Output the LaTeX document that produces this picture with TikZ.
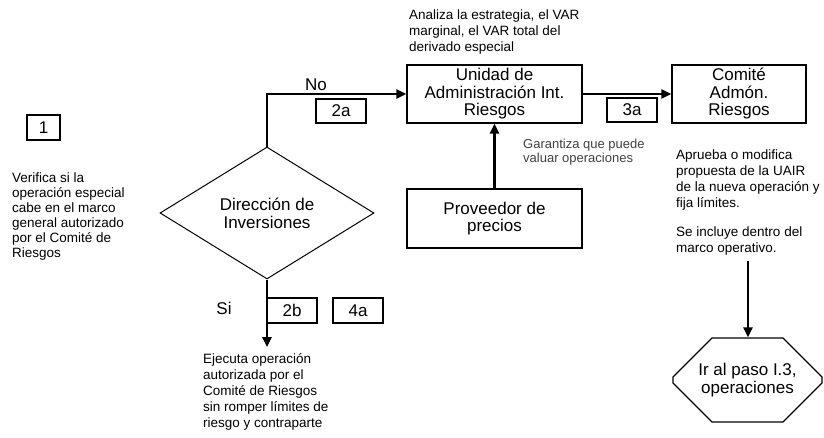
\documentclass[tikz,border=0pt]{standalone}
\usepackage{fontspec}
\setmainfont{Liberation Sans}
\usetikzlibrary{arrows.meta,shapes.geometric,shapes.misc}
\begin{document}
\begin{tikzpicture}[x=1pt,y=-1pt,
  box/.style={draw, line width=1.2pt, align=center, inner sep=0pt,
    font=\fontsize{17}{17.5}\selectfont},
  numbox/.style={draw, line width=1.2pt, inner sep=0pt, minimum width=50pt, minimum height=24pt,
    font=\fontsize{17}{17}\selectfont},
  note/.style={align=left, anchor=north west, inner sep=0pt,
    font=\fontsize{13.5}{16}\selectfont},
  lbl/.style={inner sep=0pt, font=\fontsize{17}{17}\selectfont},
  conn/.style={line width=2.4pt, -{Triangle[length=10pt,width=9pt]}}
]
\useasboundingbox (0,0) rectangle (824,437);

% boxes
\node[numbox, minimum width=33pt, minimum height=25pt] (b1) at (43.5,127.5) {1};
\node[box, minimum width=175pt, minimum height=58pt] (uair) at (494.5,94) {Unidad de\\Administración Int.\\Riesgos};
\node[box, minimum width=134pt, minimum height=58pt] (com) at (739,94) {Comité\\Admón.\\Riesgos};
\node[box, minimum width=175pt, minimum height=59pt] (prov) at (494.5,218.5) {Proveedor de\\precios};
\node[draw, diamond, line width=1pt, aspect=1.62, inner sep=0pt, minimum width=214pt, minimum height=132pt,
  align=center, font=\fontsize{17}{18}\selectfont] (dia) at (267,213) {Dirección de\\Inversiones};
\node[draw, chamfered rectangle, chamfered rectangle xsep=24pt, chamfered rectangle ysep=22pt,
  line width=1.2pt, inner sep=0pt, minimum width=149pt, minimum height=84pt, align=center,
  font=\fontsize{17}{18}\selectfont] (oct) at (747.5,380) {Ir al paso I.3,\\operaciones};

\node[numbox] (n2a) at (341,111) {2a};
\node[numbox] (n3a) at (632,110) {3a};
\node[numbox, minimum height=25pt] (n2b) at (292,310.5) {2b};
\node[numbox, minimum height=25pt] (n4a) at (358,310.5) {4a};

% labels
\node[lbl] (no) at (316,85) {No};
\node[lbl] (si) at (224,308.5) {Si};

% notes
\node[note, font=\fontsize{13.5}{15}\selectfont] (t1) at (12,173) {Verifica si la\\operación especial\\cabe en el marco\\general autorizado\\por el Comité de\\Riesgos};
\node[note] (t2) at (409,9.5) {Analiza la estrategia, el VAR\\marginal, el VAR total del\\derivado especial};
\node[note, text=black!75, font=\fontsize{13}{14}\selectfont] (t3) at (523,139) {Garantiza que puede\\valuar operaciones};
\node[note] (t4) at (676,150) {Aprueba o modifica\\propuesta de la UAIR\\de la nueva operación y\\fija límites.};
\node[note, font=\fontsize{13.5}{16.5}\selectfont] (t5) at (676,226.5) {Se incluye dentro del\\marco operativo.};
\node[note] (t6) at (203,353) {Ejecuta operación\\autorizada por el\\Comité de Riesgos\\sin romper límites de\\riesgo y contraparte};

% connectors
\coordinate (siend) at (267,347);
\coordinate (comstart) at (748,261);
\draw[conn] (dia.north) |- (uair.west);
\draw[conn] (uair.east) -- (com.west);
\draw[conn] (prov.north) -- (uair.south);
\draw[conn] (dia.south) -- (siend);
\draw[conn] (comstart) -- (oct.north -| comstart);
\end{tikzpicture}
\end{document}
